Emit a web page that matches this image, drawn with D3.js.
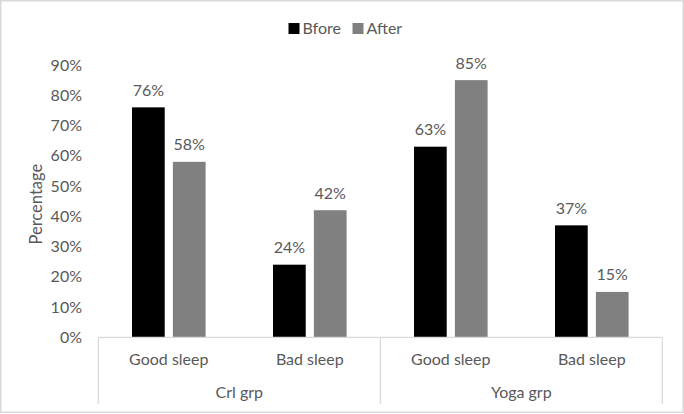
<!DOCTYPE html>
<html>
<head>
<meta charset="utf-8">
<script src="https://cdn.jsdelivr.net/npm/d3@7"></script>
<style>
  html, body { margin: 0; padding: 0; background: #fff; }
  svg { display: block; font-family: Lato, "Open Sans", sans-serif; }
</style>
</head>
<body>
<svg id="chart" width="684" height="414"></svg>
<script>
const groups = ["Crl grp", "Yoga grp"];
const subcategories = ["Good sleep", "Bad sleep"];
const series = ["Bfore", "After"];
const beforeValues = [0.76, 0.24, 0.63, 0.37];
const afterValues = [0.58, 0.42, 0.85, 0.15];
const yTicks = [0, 0.1, 0.2, 0.3, 0.4, 0.5, 0.6, 0.7, 0.8, 0.9];
const colors = ["#000000", "#808080"];

const svg = d3.select("#chart");
const W = 684, H = 414;
const textColor = "#595959";
const lineColor = "#d9d9d9";

// outer border
svg.append("rect").attr("x", 0.75).attr("y", 0.75).attr("width", W - 1.5).attr("height", H - 2.5)
  .attr("fill", "#fff").attr("stroke", lineColor).attr("stroke-width", 1.5);

const plotLeft = 98.3, plotRight = 662.3, plotTop = 65, plotBottom = 337.3;

const leaves = [];
groups.forEach(g => subcategories.forEach(s => leaves.push(g + "|" + s)));
const rows = leaves.map((k, i) => ({ key: k, group: k.split("|")[0], sub: k.split("|")[1], values: [beforeValues[i], afterValues[i]] }));

const x0 = d3.scaleBand().domain(leaves).range([plotLeft, plotRight]).padding(0);
const bw = x0.bandwidth();
const barW = bw * 0.232, gap = bw * 0.058;
const x1 = d3.scaleBand().domain(series).range([0, 2 * barW + gap]).paddingInner(gap / (barW + gap)).paddingOuter(0);
const offset = (bw - (2 * barW + gap)) / 2;

const y = d3.scaleLinear().domain([0, 0.9]).range([plotBottom, plotTop]);

// y axis tick labels (no line)
const yAxis = d3.axisLeft(y).tickValues(yTicks).tickFormat(d3.format(".0%")).tickSize(0).tickPadding(0);
const gy = svg.append("g").attr("transform", `translate(82,0)`).call(yAxis);
gy.select(".domain").remove();
gy.selectAll("text").attr("fill", textColor).style("font-size", "16px").style("font-family", "Lato, sans-serif");

// y axis title
svg.append("text").attr("transform", `translate(42,${(plotTop + plotBottom) / 2 + 3}) rotate(-90)`)
  .attr("text-anchor", "middle").attr("fill", textColor).style("font-size", "16.5px").text("Percentage");

// bars
const gBars = svg.append("g");
rows.forEach(r => {
  series.forEach((s, si) => {
    const xx = x0(r.key) + offset + x1(s);
    const v = r.values[si];
    gBars.append("rect").attr("x", xx).attr("y", y(v)).attr("width", x1.bandwidth()).attr("height", y(0) - y(v))
      .attr("fill", colors[si]);
    gBars.append("text").attr("x", xx + x1.bandwidth() / 2).attr("y", y(v) - 11.5)
      .attr("text-anchor", "middle").attr("fill", textColor).style("font-size", "16px")
      .text(d3.format(".0%")(v));
  });
});

// category axis
const axisG = svg.append("g").attr("stroke", lineColor).attr("stroke-width", 1.2);
axisG.append("line").attr("x1", plotLeft).attr("x2", plotRight).attr("y1", plotBottom).attr("y2", plotBottom);
const groupEdges = [plotLeft];
groups.forEach(g => {
  const ks = leaves.filter(k => k.startsWith(g + "|"));
  groupEdges.push(x0(ks[ks.length - 1]) + bw);
});
groupEdges.forEach(xv => axisG.append("line").attr("x1", xv).attr("x2", xv).attr("y1", plotBottom).attr("y2", 404));

rows.forEach(r => {
  svg.append("text").attr("x", x0(r.key) + bw / 2).attr("y", 359.5).attr("dy", "0.35em")
    .attr("text-anchor", "middle").attr("fill", textColor).style("font-size", "16px").text(r.sub);
});
groups.forEach((g, gi) => {
  svg.append("text").attr("x", (groupEdges[gi] + groupEdges[gi + 1]) / 2).attr("y", 392.5).attr("dy", "0.35em")
    .attr("text-anchor", "middle").attr("fill", textColor).style("font-size", "16px").text(g);
});

// legend
const legendItems = [{ name: series[0], x: 288.5 }, { name: series[1], x: 352.5 }];
legendItems.forEach((it, i) => {
  svg.append("rect").attr("x", it.x).attr("y", 23).attr("width", 11).attr("height", 11).attr("fill", colors[i]);
  svg.append("text").attr("x", it.x + 14).attr("y", 28.5).attr("dy", "0.35em").attr("fill", textColor)
    .style("font-size", "16px").text(it.name);
});
</script>
</body>
</html>
